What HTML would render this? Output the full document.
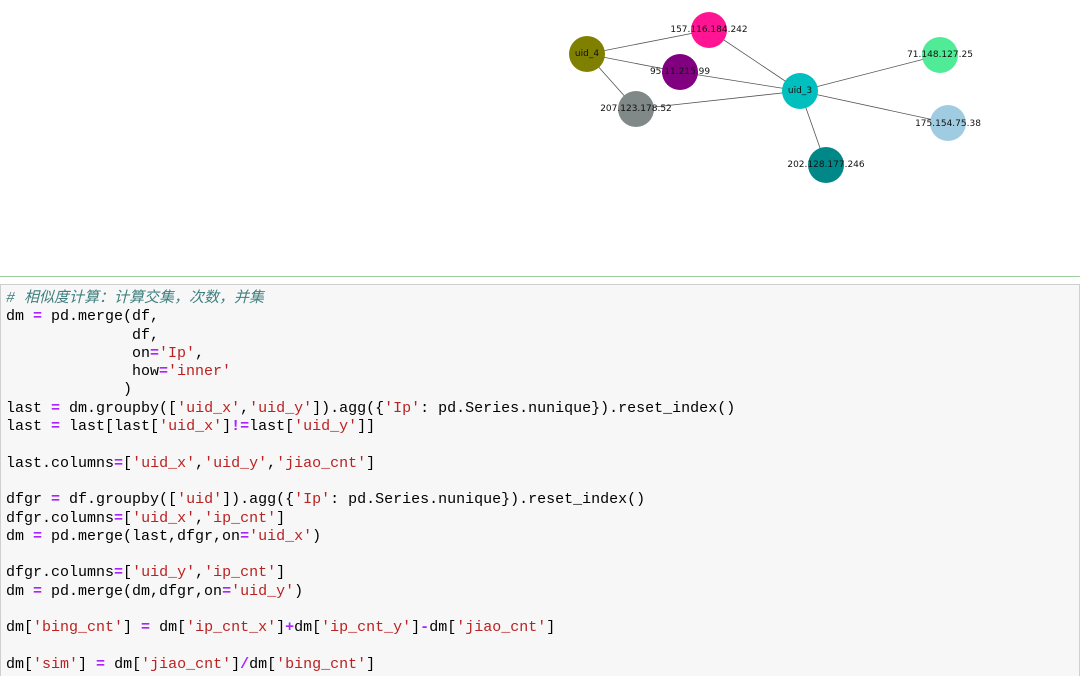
<!DOCTYPE html>
<html style="height:676px;overflow:hidden"><head><meta charset="utf-8"><style>
html,body{margin:0;width:1080px;height:676px;overflow:hidden}
body{background:#fff;position:relative;font-family:"Liberation Sans",sans-serif}
.sep{position:absolute;left:0;top:276px;width:1080px;height:1px;background:#9ccc9c}
.code{position:absolute;left:0;top:284px;width:1078px;height:396px;background:#f7f7f7;border:1px solid #cfcfcf}
pre{margin:0;position:absolute;left:5px;top:5px;font-family:"Liberation Mono","Noto Sans CJK SC",monospace;font-size:15px;line-height:18.3px;color:#000}
.c{color:#408080;font-style:italic}.s{color:#ba2121}.o{color:#aa22ff;font-weight:bold}
</style></head><body>
<svg width="1080" height="276" style="position:absolute;left:0;top:0">
<g stroke="#555" stroke-width="0.8">
<line x1="587" y1="54" x2="709" y2="30"/><line x1="587" y1="54" x2="680" y2="72"/><line x1="587" y1="54" x2="636" y2="109"/>
<line x1="800" y1="91" x2="709" y2="30"/><line x1="800" y1="91" x2="680" y2="72"/><line x1="800" y1="91" x2="636" y2="109"/>
<line x1="800" y1="91" x2="940" y2="55"/><line x1="800" y1="91" x2="948" y2="123"/><line x1="800" y1="91" x2="826" y2="165"/>
</g>
<circle cx="587" cy="54" r="18" fill="#808000"/><circle cx="709" cy="30" r="18" fill="#ff1493"/>
<circle cx="680" cy="72" r="18" fill="#800080"/><circle cx="636" cy="109" r="18" fill="#808888"/>
<circle cx="800" cy="91" r="18" fill="#00bfbf"/><circle cx="940" cy="55" r="18" fill="#50eb96"/>
<circle cx="948" cy="123" r="18" fill="#a0cce2"/><circle cx="826" cy="165" r="18" fill="#008888"/>
<g font-family="DejaVu Sans,sans-serif" font-size="9" fill="#111" text-anchor="middle" dominant-baseline="central">
<text x="587" y="54">uid_4</text><text x="709" y="30">157.116.184.242</text><text x="680" y="72">95.11.215.99</text>
<text x="636" y="109">207.123.178.52</text><text x="800" y="91">uid_3</text><text x="940" y="55">71.148.127.25</text>
<text x="948" y="124">175.154.75.38</text><text x="826" y="165">202.128.177.246</text>
</g></svg>
<div class="sep"></div>
<div class="code"><pre><span class="c"># 相似度计算：计算交集，次数，并集</span>
dm <span class="o">=</span> pd.merge(df,
              df,
              on<span class="o">=</span><span class="s">'Ip'</span>,
              how<span class="o">=</span><span class="s">'inner'</span>
             )
last <span class="o">=</span> dm.groupby([<span class="s">'uid_x'</span>,<span class="s">'uid_y'</span>]).agg({<span class="s">'Ip'</span>: pd.Series.nunique}).reset_index()
last <span class="o">=</span> last[last[<span class="s">'uid_x'</span>]<span class="o">!=</span>last[<span class="s">'uid_y'</span>]]

last.columns<span class="o">=</span>[<span class="s">'uid_x'</span>,<span class="s">'uid_y'</span>,<span class="s">'jiao_cnt'</span>]

dfgr <span class="o">=</span> df.groupby([<span class="s">'uid'</span>]).agg({<span class="s">'Ip'</span>: pd.Series.nunique}).reset_index()
dfgr.columns<span class="o">=</span>[<span class="s">'uid_x'</span>,<span class="s">'ip_cnt'</span>]
dm <span class="o">=</span> pd.merge(last,dfgr,on<span class="o">=</span><span class="s">'uid_x'</span>)

dfgr.columns<span class="o">=</span>[<span class="s">'uid_y'</span>,<span class="s">'ip_cnt'</span>]
dm <span class="o">=</span> pd.merge(dm,dfgr,on<span class="o">=</span><span class="s">'uid_y'</span>)

dm[<span class="s">'bing_cnt'</span>] <span class="o">=</span> dm[<span class="s">'ip_cnt_x'</span>]<span class="o">+</span>dm[<span class="s">'ip_cnt_y'</span>]<span class="o">-</span>dm[<span class="s">'jiao_cnt'</span>]

dm[<span class="s">'sim'</span>] <span class="o">=</span> dm[<span class="s">'jiao_cnt'</span>]<span class="o">/</span>dm[<span class="s">'bing_cnt'</span>]</pre></div>
</body></html>
